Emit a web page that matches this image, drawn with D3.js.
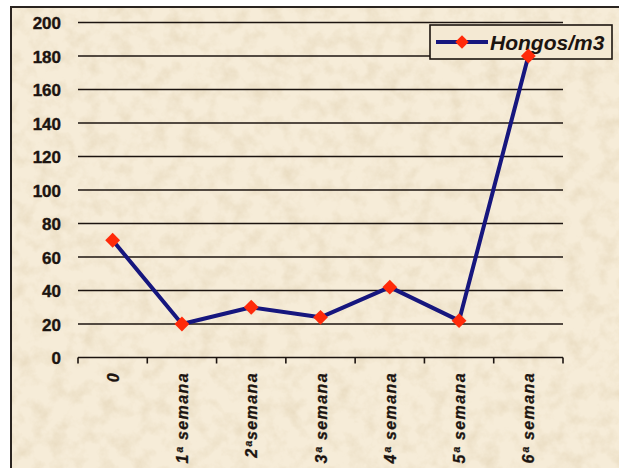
<!DOCTYPE html>
<html><head><meta charset="utf-8">
<script src="https://cdn.jsdelivr.net/npm/d3@7"></script>
<style>body{margin:0;background:#fff}svg{display:block}</style>
</head><body><div id="chart"></div>
<script>
const categories = ["0","1ª semana","2ªsemana","3ª semana","4ª semana","5ª semana","6ª semana"];
const values = [70,20,30,24,42,22,180];
const yTicks = [0,20,40,60,80,100,120,140,160,180,200];
const seriesName = "Hongos/m3";

const W = 619, H = 468;
const svg = d3.select("#chart").append("svg").attr("width", W).attr("height", H);
const defs = svg.append("defs");
const f = defs.append("filter").attr("id","paper").attr("x",0).attr("y",0).attr("width","100%").attr("height","100%");
f.append("feTurbulence").attr("type","fractalNoise").attr("baseFrequency","0.06").attr("numOctaves",4).attr("seed",7);
f.append("feColorMatrix").attr("type","matrix").attr("values","0 0 0 0 0.70  0 0 0 0 0.58  0 0 0 0 0.38  0.9 0 0 0 -0.38");
f.append("feComposite").attr("in2","SourceGraphic").attr("operator","in");

svg.append("rect").attr("x",11).attr("y",7).attr("width",W).attr("height",H).attr("fill","#f6ecd8");
svg.append("rect").attr("x",11).attr("y",7).attr("width",W).attr("height",H).attr("fill","#000").attr("filter","url(#paper)");
svg.append("path").attr("d",`M11,${H} V7 H${W}`).attr("fill","none").attr("stroke","#2a2420").attr("stroke-width",2);

const x = d3.scaleBand().domain(categories).range([78,563]);
const y = d3.scaleLinear().domain([0,200]).range([357.5,22.5]);
const ink = "#1c1410";

// gridlines
svg.append("g").selectAll("line").data(yTicks).join("line")
  .attr("x1",78).attr("x2",563).attr("y1",d=>y(d)).attr("y2",d=>y(d))
  .attr("stroke",ink).attr("stroke-width",1.6);

// y axis labels
const ya = svg.append("g").attr("transform","translate(78,0)")
  .call(d3.axisLeft(y).tickValues(yTicks).tickSize(0).tickPadding(17));
ya.select(".domain").remove();
ya.selectAll("text").attr("fill",ink).attr("font-family","Liberation Sans, Arial, sans-serif")
  .attr("font-weight","bold").attr("font-size",17).attr("dy","0.36em")
  .attr("stroke",ink).attr("stroke-width",0.4);

// x axis ticks at band boundaries
const bounds = categories.map(c=>x(c)).concat([x.range()[1]]);
svg.append("g").selectAll("line").data(bounds).join("line")
  .attr("x1",d=>d).attr("x2",d=>d).attr("y1",y(0)).attr("y2",y(0)+6)
  .attr("stroke",ink).attr("stroke-width",1.6);

// x labels
svg.append("g").selectAll("text").data(categories).join("text")
  .attr("transform",c=>`translate(${x(c)+x.bandwidth()/2+6},372) rotate(-90)`)
  .attr("text-anchor","end")
  .attr("font-family","Liberation Sans, Arial, sans-serif").attr("font-weight","bold").attr("font-style","italic")
  .attr("font-size",16).attr("letter-spacing","1.4px").attr("fill",ink)
  .attr("stroke",ink).attr("stroke-width",0.3)
  .text(c=>c);

// legend
const lg = svg.append("g");
lg.append("rect").attr("x",430).attr("y",25).attr("width",182).attr("height",34)
  .attr("fill","#f4e9d3").attr("stroke",ink).attr("stroke-width",1.6);
lg.append("line").attr("x1",436).attr("x2",488).attr("y1",42).attr("y2",42)
  .attr("stroke","#16167e").attr("stroke-width",4);
lg.append("path").attr("d",d3.symbol(d3.symbolSquare,90)()).attr("transform","translate(462,42) rotate(45)").attr("fill","#ff2a0a");
lg.append("text").attr("x",490).attr("y",49.5).attr("font-family","Liberation Sans, Arial, sans-serif")
  .attr("font-weight","bold").attr("font-style","italic").attr("font-size",21).attr("fill",ink).text(seriesName);

// series
const pts = categories.map((c,i)=>[x(c)+x.bandwidth()/2, y(values[i])]);
svg.append("path").attr("d",d3.line()(pts)).attr("fill","none")
  .attr("stroke","#16167e").attr("stroke-width",4).attr("stroke-linejoin","round");
svg.append("g").selectAll("path").data(pts).join("path")
  .attr("d",d3.symbol(d3.symbolSquare,110)())
  .attr("transform",p=>`translate(${p[0]},${p[1]}) rotate(45)`).attr("fill","#ff2a0a");
</script></body></html>
